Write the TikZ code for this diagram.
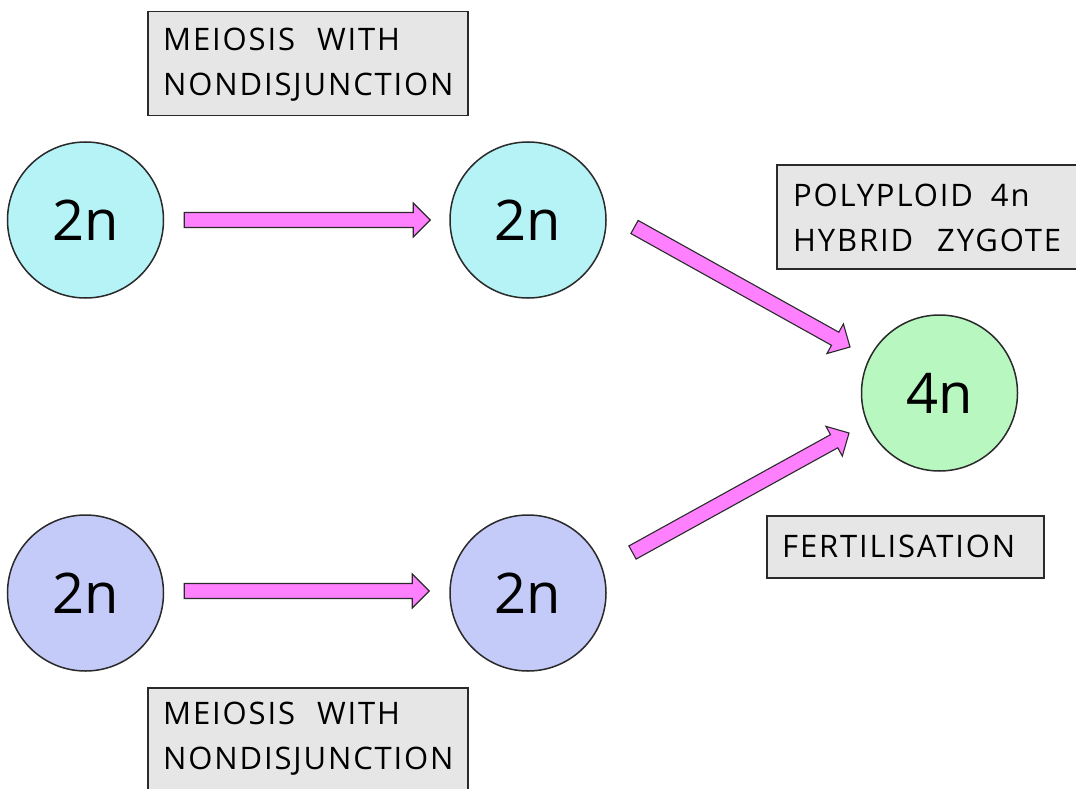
\documentclass[tikz,border=0pt]{standalone}
\usepackage{fontspec}
\setmainfont{Open Sans}
\newfontfamily\boxfont[LetterSpace=6]{Open Sans}
\usetikzlibrary{calc}
\definecolor{cyanc}{HTML}{B6F3F7}
\definecolor{lavc}{HTML}{C4CBF8}
\definecolor{greenc}{HTML}{B8F8C0}
\definecolor{pinkc}{HTML}{FF80FF}
\definecolor{boxc}{HTML}{E6E6E6}
\definecolor{edgec}{HTML}{2A2A2A}
\newcommand\fatarrow[2]{%
  \coordinate (fa-s) at (#1);
  \coordinate (fa-e) at (#2);
  \coordinate (fa-h) at ($(fa-e)!17pt!(fa-s)$);
  \filldraw[arrowshape]
    ($(fa-s)!7.5pt!90:(fa-e)$) -- ($(fa-h)!7.5pt!-90:(fa-s)$) --
    ($(fa-h)!17pt!-90:(fa-s)$) -- (fa-e) --
    ($(fa-h)!17pt!90:(fa-s)$) -- ($(fa-h)!7.5pt!90:(fa-s)$) --
    ($(fa-s)!7.5pt!-90:(fa-e)$) -- cycle;}
\begin{document}
\begin{tikzpicture}[x=1pt,y=-1pt,
  cell/.style={circle,draw=edgec,line width=1.5pt,minimum size=156pt,inner sep=0pt,
    font=\fontsize{56}{60}\selectfont},
  infobox/.style={draw=edgec,fill=boxc,line width=1.5pt,anchor=north west,inner sep=0pt},
  infotext/.style={anchor=west,align=left,inner sep=0pt,
    font=\boxfont\fontsize{31}{45}\selectfont},
  arrowshape/.style={fill=pinkc,draw=edgec,line width=1.1pt,line join=miter}]
\useasboundingbox (0,0) rectangle (1076,789);
\fill[white] (0,0) rectangle (1076,789);
% cells
\node[cell,fill=cyanc] (a) at (85.5,220) {2n};
\node[cell,fill=cyanc] (b) at (528,220) {2n};
\node[cell,fill=lavc] (c) at (85.5,593) {2n};
\node[cell,fill=lavc] (d) at (528,593) {2n};
\node[cell,fill=greenc] (z) at (939.5,393) {4n};
% boxes
\node[infobox,minimum width=320pt,minimum height=104pt] (b1) at (147,11) {};
\node[infotext] (t1) at ($(b1.west)+(16,1)$) {MEIOSIS\hspace{22pt}WITH\\NONDISJUNCTION};
\node[infobox,minimum width=320pt,minimum height=106pt] (b2) at (147,687) {};
\node[infotext] (t2) at ($(b2.west)+(16,-2)$) {MEIOSIS\hspace{22pt}WITH\\NONDISJUNCTION};
\node[infobox,minimum width=320pt,minimum height=104pt] (b3) at (776,164) {};
\node[infotext] (t3) at ($(b3.west)+(17,1)$) {POLYPLOID\hspace{18pt}4n\\HYBRID\hspace{24pt}ZYGOTE};
\node[infobox,minimum width=277pt,minimum height=62pt] (b4) at (766,515) {};
\node[infotext] (t4) at ($(b4.west)+(16,0)$) {FERTILISATION};
% connectors
\coordinate (a1) at ($(a.east)+(20,0)$);
\coordinate (a2) at ($(b.west)+(-19,0)$);
\coordinate (c1) at ($(c.east)+(20,-2)$);
\coordinate (c2) at ($(d.west)+(-20,-2)$);
\coordinate (b1s) at ($(b.center)+(106.5,7)$);
\coordinate (b1e) at ($(z.center)+(-89.5,-46)$);
\coordinate (d1s) at ($(d.center)+(104.5,-40.5)$);
\coordinate (d1e) at ($(z.center)+(-90.5,40)$);
\fatarrow{a1}{a2}
\fatarrow{c1}{c2}
\fatarrow{b1s}{b1e}
\fatarrow{d1s}{d1e}
\end{tikzpicture}
\end{document}
